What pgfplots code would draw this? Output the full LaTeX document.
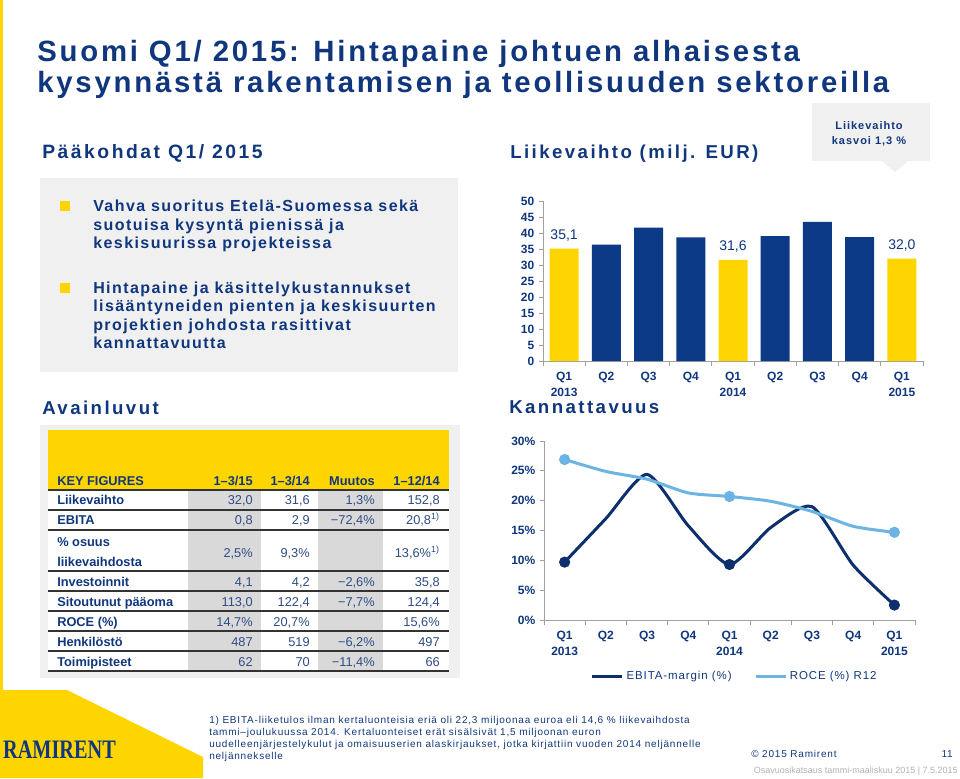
\documentclass[border=0pt]{standalone}
\usepackage{pgfplots}
\pgfplotsset{compat=1.18}
\usepackage{fontspec}
\setmainfont{Liberation Sans}
\newfontfamily\tl[LetterSpace=9.5]{Liberation Sans}
\newfontfamily\hd[LetterSpace=13]{Liberation Sans}
\newfontfamily\bd[LetterSpace=9]{Liberation Sans}
\newfontfamily\sm[LetterSpace=8]{Liberation Sans}
\newfontfamily\logofont{Liberation Serif}
\newcommand{\fs}[1]{\fontsize{#1}{#1}\selectfont}
\definecolor{navy}{HTML}{10377D}
\definecolor{bar}{HTML}{0C3A86}
\definecolor{ebita}{HTML}{0E2F6E}
\definecolor{roce}{HTML}{6CB4E4}
\definecolor{ryellow}{HTML}{FFD500}
\definecolor{boxgray}{HTML}{F0F0F0}
\definecolor{colgray}{HTML}{D9D9D9}
\definecolor{numc}{HTML}{2E4C85}
\definecolor{axgray}{HTML}{A0A0A0}

% table row: baseline, label, four values
\newcommand{\trow}[6]{%
  \node[lab] at (57,#1) {#2};
  \node[num] at (253,#1) {#3};
  \node[num] at (310,#1) {#4};
  \node[num] at (375,#1) {#5};
  \node[num] at (440,#1) {#6};
}

\begin{document}
\begin{tikzpicture}
\begin{scope}[x=0.75pt,y=-0.75pt,
  lab/.style={anchor=base west,inner sep=0,text=navy,font=\bfseries\fs{9.6}},
  num/.style={anchor=base east,inner sep=0,text=numc,font=\fs{9.6}},
  txt/.style={anchor=base west,inner sep=0,text=navy}]
\path[use as bounding box,fill=white] (0,0) rectangle (960,778);
\fill[ryellow] (0,0) rectangle (2.5,690);
\fill[ryellow] (0,690) -- (67,690) -- (203,757) -- (203,778) -- (0,778) -- cycle;

% title
\node[txt,font=\tl\bfseries\fs{22}] at (37,61) {Suomi Q1/ 2015: Hintapaine johtuen alhaisesta};
\node[txt,font=\tl\bfseries\fs{22}] at (37,92) {kysynnästä rakentamisen ja teollisuuden sektoreilla};

% section headings
\node[txt,font=\hd\bfseries\fs{14.5}] at (42,158) {Pääkohdat Q1/ 2015};
\node[txt,font=\hd\bfseries\fs{14}] at (510,158) {Liikevaihto (milj. EUR)};
\node[txt,font=\hd\bfseries\fs{14}] at (42,414) {Avainluvut};
\node[txt,font=\hd\bfseries\fs{14}] at (509,413) {Kannattavuus};

% callout
\fill[boxgray] (812,103) rectangle (930,161);
\fill[boxgray] (882,161) -- (908,161) -- (895,172) -- cycle;
\node[anchor=base,inner sep=0,text=navy,font=\bd\bfseries\fs{8.25}] at (869,129) {Liikevaihto};
\node[anchor=base,inner sep=0,text=navy,font=\bd\bfseries\fs{8.25}] at (869,144) {kasvoi 1,3 \%};

% bullets box
\fill[boxgray] (40,178) rectangle (458,372);
\fill[ryellow] (60,201) rectangle (70,211);
\fill[ryellow] (60,283) rectangle (70,293);
\foreach \yy/\tt in {211.5/{Vahva suoritus Etelä-Suomessa sekä},
                     230/{suotuisa kysyntä pienissä ja},
                     248.5/{keskisuurissa projekteissa},
                     293/{Hintapaine ja käsittelykustannukset},
                     311.5/{lisääntyneiden pienten ja keskisuurten},
                     330/{projektien johdosta rasittivat},
                     348.5/{kannattavuutta}}
  \node[txt,font=\bd\bfseries\fs{12}] at (93,\yy) {\tt};

% key figures table
\fill[boxgray] (40,425) rectangle (460,678);
\fill[ryellow] (48,430) rectangle (449,490);
\fill[white] (48,490) rectangle (449,671);
\fill[colgray] (188,490) rectangle (261,671);
\fill[colgray] (318,490) rectangle (383,671);
\foreach \yy in {490,510,530,571,591,611,631,651,671}
  \draw[black!80,line width=1.1pt] (48,\yy) -- (449,\yy);
\node[lab] at (57,485) {KEY FIGURES};
\node[lab,anchor=base east] at (253,485) {1–3/15};
\node[lab,anchor=base east] at (310,485) {1–3/14};
\node[lab,anchor=base east] at (375,485) {Muutos};
\node[lab,anchor=base east] at (440,485) {1–12/14};
\trow{504.5}{Liikevaihto}{32,0}{31,6}{1,3\%}{152,8}
\trow{524.5}{EBITA}{0,8}{2,9}{−72,4\%}{20,8\textsuperscript{1)}}
\node[lab] at (57,546) {\% osuus};
\node[lab] at (57,566) {liikevaihdosta};
\trow{557.5}{}{2,5\%}{9,3\%}{}{13,6\%\textsuperscript{1)}}
\trow{586}{Investoinnit}{4,1}{4,2}{−2,6\%}{35,8}
\trow{606}{Sitoutunut pääoma}{113,0}{122,4}{−7,7\%}{124,4}
\trow{626}{ROCE (\%)}{14,7\%}{20,7\%}{}{15,6\%}
\trow{646}{Henkilöstö}{487}{519}{−6,2\%}{497}
\trow{666}{Toimipisteet}{62}{70}{−11,4\%}{66}

% footer
\node[anchor=base west,inner sep=0,text=navy,font=\logofont\bfseries\fs{20},xscale=0.76] at (3,758) {RAMIRENT};
\foreach \yy/\tt in {723/{1) EBITA-liiketulos ilman kertaluonteisia eriä oli 22,3 miljoonaa euroa eli 14,6 \% liikevaihdosta},
                     735/{tammi–joulukuussa 2014. Kertaluonteiset erät sisälsivät 1,5 miljoonan euron},
                     747/{uudelleenjärjestelykulut ja omaisuuserien alaskirjaukset, jotka kirjattiin vuoden 2014 neljännelle},
                     759/{neljännekselle}}
  \node[txt,font=\sm\fs{7.5}] at (209,\yy) {\tt};
\node[txt,font=\sm\fs{7.5}] at (751,757) {© 2015 Ramirent};
\node[anchor=base east,inner sep=0,text=navy,font=\sm\fs{7.5}] at (953,757) {11};
\node[anchor=base east,inner sep=0,text=black!30,font=\fs{6.75}] at (958,773) {Osavuosikatsaus tammi-maaliskuu 2015 | 7.5.2015};

\coordinate (barO) at (543,361);
\coordinate (lineO) at (544,620);
\end{scope}

\pgfplotsset{
  slide/.style={
    scale only axis,
    anchor=south west,
    xmin=-0.5, xmax=8.5,
    xtick={0,...,8},
    xticklabels={{Q1\\2013},Q2,Q3,Q4,{Q1\\2014},Q2,Q3,Q4,{Q1\\2015}},
    minor xtick={-0.5,0.5,...,8.5},
    axis x line*=bottom, axis y line*=left,
    axis line style={axgray,line width=0.75pt,-},
    tick align=outside,
    major tick length=3pt, minor tick length=4pt,
    every tick/.style={axgray,line width=0.6pt},
    major x tick style={draw=none},
    /pgf/number format/assume math mode=true,
    tick label style={text=navy,font=\bfseries\fontsize{9}{12}\selectfont},
    x tick label style={align=center,yshift=-2pt},
  }
}

\begin{axis}[slide,
  at={(barO)}, width=285pt, height=120pt,
  ymin=0, ymax=50, ytick={0,5,...,50},
  ybar, bar width=21.75pt]
\addplot[fill=ryellow,draw=none,bar shift=0pt,
  nodes near coords={\pgfmathprintnumber[fixed,fixed zerofill,precision=1,use comma,assume math mode=true]{\pgfplotspointmeta}},
  every node near coord/.append style={text=navy,font=\fs{10.5},yshift=2pt}]
  coordinates {(0,35.1) (4,31.6) (8,32.0)};
\addplot[fill=bar,draw=none,bar shift=0pt]
  coordinates {(1,36.4) (2,41.7) (3,38.6) (5,39.0) (6,43.5) (7,38.7)};
\end{axis}

\begin{axis}[slide,
  at={(lineO)}, width=278.25pt, height=134.25pt,
  ymin=0, ymax=30, ytick={0,5,...,30},
  yticklabel={\pgfmathprintnumber{\tick}\%},
  legend style={draw=none,fill=none,at={(0.515,-0.313)},anchor=center,
    legend columns=2,font=\sm\fs{8.6},text=navy,
    /tikz/every even column/.append style={column sep=15pt}},
  legend image code/.code={\draw[#1,mark=none] (0pt,0pt) -- (22.5pt,0pt);}]
\addplot[ebita,line width=2.25pt,smooth,tension=0.4,mark=*,mark repeat=4,mark size=3pt,
  mark options={fill=ebita,draw=ebita}]
  coordinates {(0,9.7) (1,17.0) (2,24.4) (3,15.8) (4,9.3) (5,15.5) (6,19.0) (7,9.2) (8,2.5)};
\addlegendentry{EBITA-margin (\%)}
\addplot[roce,line width=2.25pt,smooth,tension=0.4,mark=*,mark repeat=4,mark size=3pt,
  mark options={fill=roce,draw=roce}]
  coordinates {(0,26.9) (1,24.9) (2,23.6) (3,21.3) (4,20.7) (5,19.9) (6,18.2) (7,15.7) (8,14.7)};
\addlegendentry{ROCE (\%) R12}
\end{axis}
\end{tikzpicture}
\end{document}
